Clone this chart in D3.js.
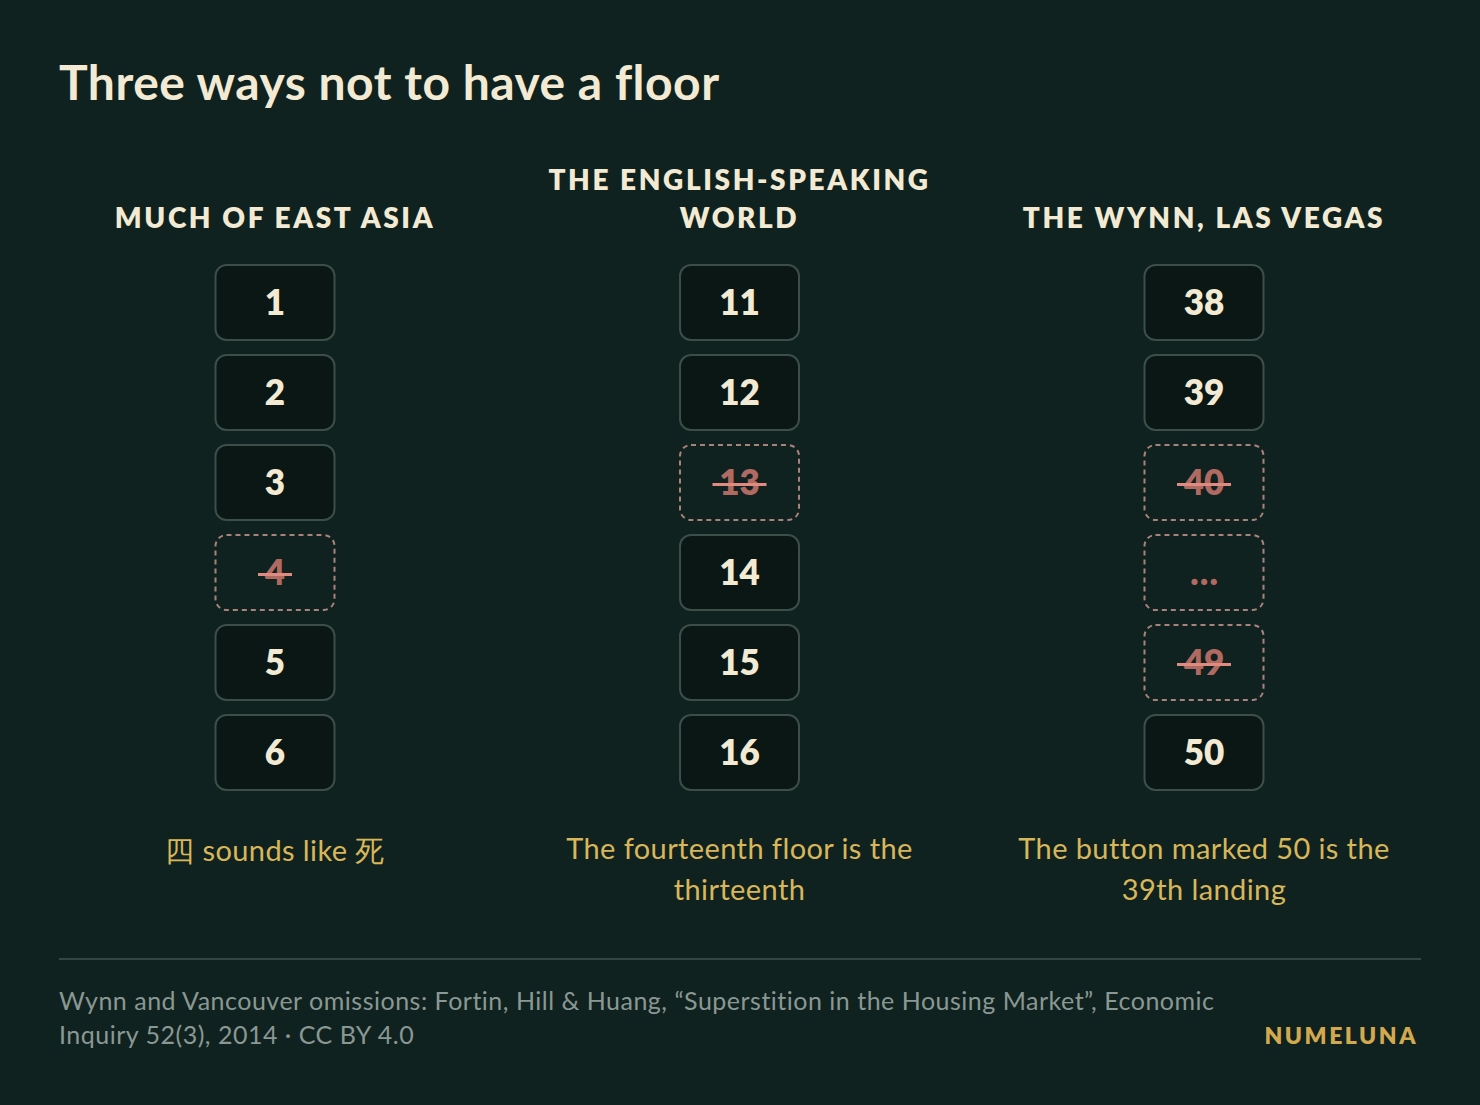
<!DOCTYPE html>
<html><head><meta charset="utf-8">
<script src="https://cdn.jsdelivr.net/npm/d3@7"></script>
<style>body{margin:0;background:#10221f}</style></head>
<body><svg id="c" width="1480" height="1105"></svg>
<script>
const columns = ["MUCH OF EAST ASIA", "THE ENGLISH-SPEAKING|WORLD", "THE WYNN, LAS VEGAS"];
const eastAsia = ["1","2","3","4","5","6"];
const english = ["11","12","13","14","15","16"];
const wynn = ["38","39","40","…","49","50"];
const skipped = [[false,false,false,true,false,false],[false,false,true,false,false,false],[false,false,true,true,true,false]];
const captions = ["四 sounds like 死", "The fourteenth floor is the|thirteenth", "The button marked 50 is the|39th landing"];
const floors = [eastAsia, english, wynn];

const svg = d3.select("#c");
svg.append("rect").attr("width",1480).attr("height",1105).attr("fill","#10221f");
svg.append("text").attr("x",59).attr("y",100).text("Three ways not to have a floor")
  .attr("font-family","Lato").attr("font-weight",700).attr("font-size",48).attr("letter-spacing",0.5).attr("fill","#f3ead4");

const x = d3.scalePoint().domain(d3.range(3)).range([275,1204]);
const y = d3.scaleBand().domain(d3.range(6)).range([265,790]).paddingInner(15/90).paddingOuter(0);
const bw = 119;
const ff = "Lato";
columns.forEach((h,i)=>{
  const g = svg.append("g");
  const lines = h.split("|");
  lines.forEach((l,j)=>{
    g.append("text").attr("x",x(i)).attr("y",228-(lines.length-1-j)*38).attr("text-anchor","middle")
     .attr("font-family",ff).attr("font-weight",800).attr("font-size",28).attr("letter-spacing",2.6)
     .attr("fill","#f3ead4").text(l);
  });
  floors[i].forEach((f,k)=>{
    const s = skipped[i][k];
    const yy = y(k);
    g.append("rect").attr("x",x(i)-bw/2).attr("y",yy).attr("width",bw).attr("height",y.bandwidth())
     .attr("rx",11).attr("fill",s?"none":"#0a1714").attr("stroke",s?"#a9827b":"#3b4e48")
     .attr("stroke-width",2).attr("stroke-dasharray",s?"5,4":null);
    g.append("text").attr("x",x(i)).attr("y",yy+y.bandwidth()/2+12).attr("text-anchor","middle")
     .attr("font-family",ff).attr("font-weight",800).attr("font-size",35)
     .attr("fill",s?"#b06a62":"#f3ead4").text(f);
    if(s && f!=="…"){
      const w = f.length*20+14;
      g.append("line").attr("x1",x(i)-w/2).attr("x2",x(i)+w/2).attr("y1",yy+y.bandwidth()/2+2).attr("y2",yy+y.bandwidth()/2+2)
       .attr("stroke","#e08a80").attr("stroke-width",3);
    }
  });
  captions[i].split("|").forEach((l,j)=>{
    g.append("text").attr("x",x(i)).attr("y",(i===0?861:859)+j*41).attr("text-anchor","middle")
     .attr("font-family",ff).attr("font-size",29).attr("letter-spacing",0.4).attr("fill","#d8b65a").text(l);
  });
});
svg.append("line").attr("x1",59).attr("x2",1421).attr("y1",959).attr("y2",959).attr("stroke","#34463f").attr("stroke-width",2);
["Wynn and Vancouver omissions: Fortin, Hill & Huang, “Superstition in the Housing Market”, Economic","Inquiry 52(3), 2014 · CC BY 4.0"].forEach((l,j)=>{
  svg.append("text").attr("x",59).attr("y",1010+j*34).attr("font-family",ff).attr("font-size",25).attr("letter-spacing",0.5).attr("fill","#8a9893").text(l);
});
svg.append("text").attr("x",1418).attr("y",1044).attr("text-anchor","end").attr("font-family",ff).attr("font-weight",800)
  .attr("font-size",23).attr("letter-spacing",2.5).attr("fill","#d2a94e").text("NUMELUNA");
</script></body></html>
